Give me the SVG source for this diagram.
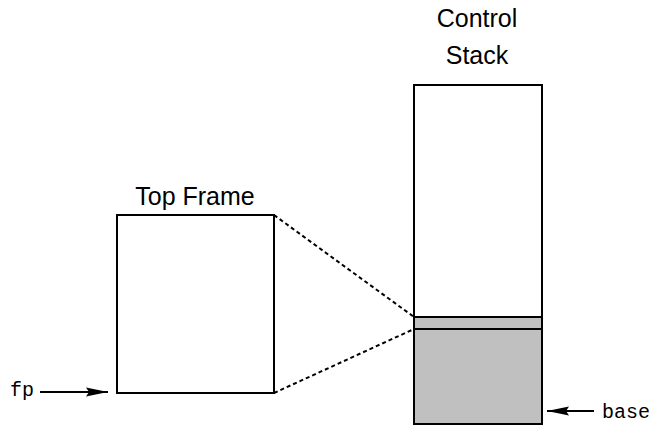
<svg xmlns="http://www.w3.org/2000/svg" width="652" height="426" viewBox="0 0 652 426">
<style>
.box{fill:#fff;stroke:#000;stroke-width:2}
.shade{fill:#c0c0c0;stroke:#000;stroke-width:2}
.lbl{font-family:"Liberation Sans",Arial,sans-serif;font-size:25px;fill:#000;text-anchor:middle}
.mono{font-family:"Liberation Mono","Courier New",monospace;font-size:20px;fill:#000}
.dash{stroke:#000;stroke-width:2;stroke-dasharray:4 3;fill:none}
.arr{stroke:#000;stroke-width:2;fill:none}
</style>
<defs>
<marker id="ah" markerUnits="userSpaceOnUse" markerWidth="22" markerHeight="10" refX="22" refY="5" orient="auto">
<path d="M0,0.5 L22,5 L0,9.5 L3,5 Z" fill="#000"/>
</marker>
</defs>
<g id="stack">
<rect class="box" x="414" y="85" width="128" height="339"/>
<rect class="shade" x="414" y="317" width="128" height="107"/>
<line x1="414" y1="329" x2="542" y2="329" stroke="#000" stroke-width="2"/>
<text class="lbl" x="477" y="27">Control</text>
<text class="lbl" x="477" y="64">Stack</text>
</g>
<g id="topframe">
<rect class="box" x="117" y="215" width="157" height="178"/>
<text class="lbl" x="195" y="205">Top Frame</text>
</g>
<g id="fp">
<text class="mono" x="10" y="396">fp</text>
</g>
<g id="base">
<text class="mono" x="602" y="418">base</text>
</g>
<g id="connectors">
<line class="dash" x1="274" y1="215" x2="414" y2="317"/>
<line class="dash" x1="274" y1="393" x2="414" y2="329"/>
<line class="arr" x1="40" y1="392" x2="108" y2="392" marker-end="url(#ah)"/>
<line class="arr" x1="594" y1="411" x2="547" y2="411" marker-end="url(#ah)"/>
</g>
</svg>
